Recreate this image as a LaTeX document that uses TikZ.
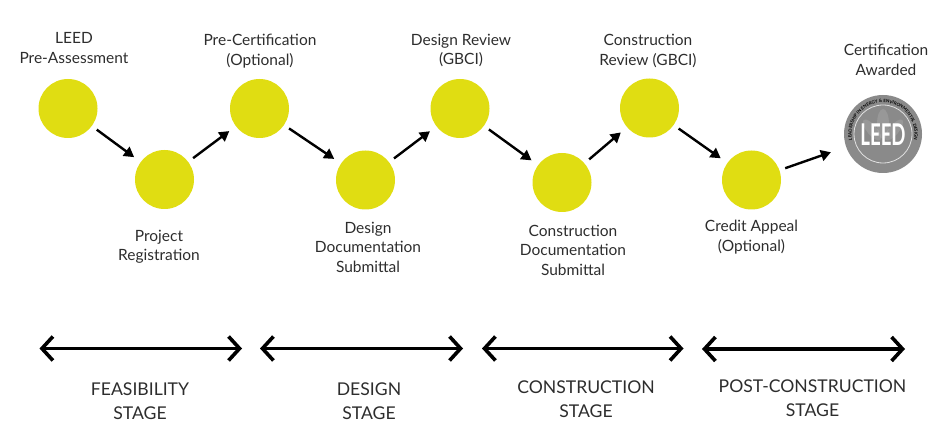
\documentclass[tikz,border=0pt]{standalone}
\usepackage{fontspec}
\setmainfont{Lato}
\usetikzlibrary{arrows.meta,decorations.text}
\definecolor{leedyellow}{RGB}{224,221,18}
\definecolor{labelgray}{RGB}{45,45,45}
\definecolor{badgegray}{RGB}{138,138,138}
\definecolor{badgelight}{RGB}{225,225,225}
\newcommand\badgefont{\fontsize{4.4}{5}\selectfont\bfseries}

\begin{document}
\begin{tikzpicture}[x=1pt,y=-1pt,
	dot/.style={circle, fill=leedyellow, minimum size=59pt, inner sep=0pt},
	lbl/.style={align=center, text=labelgray, font=\fontsize{15.5}{19.5}\selectfont},
	stagelbl/.style={align=center, text=labelgray, font=\fontsize{17.6}{24}\selectfont},
	flow/.style={-{Triangle[length=10pt,width=11pt]}, line width=2.4pt, shorten <=6pt, shorten >=8pt},
	span/.style={{Straight Barb[length=11pt,width=24pt]}-{Straight Barb[length=11pt,width=24pt]}, line width=3.6pt}]

\useasboundingbox (0,0) rectangle (936,430);

\foreach [count=\i] \x\y in {
	68/108.5
	,164.5/179.5
	,259.5/108.5
	,365.5/180
	,460/108.5
	,562/182.5
	,649.5/108
	,751.5/180
}{
	\node[dot](\i) at(\x,\y) {};
}

% badge
\node[circle, fill=badgegray, minimum size=78pt, inner sep=0pt](leed) at(883,134) {};
\fill[white, opacity=0.12] (leed.center) ++(0pt,10pt) circle[x radius=6pt, y radius=15pt];
\fill[white, opacity=0.12] (leed.center) ++(-11pt,4pt) circle[x radius=5pt, y radius=13pt, rotate=40];
\fill[white, opacity=0.12] (leed.center) ++(11pt,4pt) circle[x radius=5pt, y radius=13pt, rotate=-40];
\draw[badgelight, line width=0.8pt] (leed.center) circle[radius=29pt];
\node[text=white, font=\bfseries\fontsize{30}{30}\selectfont, xscale=0.62](leedtext) at(883,135) {LEED};
\begin{scope}[color=badgelight]
\path[decorate, decoration={text along path, text align=center,
	text={|\badgefont|LEADERSHIP IN ENERGY {\&} ENVIRONMENTAL DESIGN}}]
	(leed.center) ++(215:31.5pt) arc[start angle=215, end angle=-35, radius=31.5pt];
\end{scope}

% labels
\node[lbl](pre) at(74,48) {LEED\\Pre-Assessment};
\node[lbl](reg) at(159,247) {Project\\Registration};
\node[lbl](precert) at(260,51) {Pre-Certification\\(Optional)};
\node[lbl](ddoc) at(368,247) {Design\\Documentation\\Submittal};
\node[lbl](drev) at(461,50.5) {Design Review\\(GBCI)};
\node[lbl](cdoc) at(573,250) {Construction\\Documentation\\Submittal};
\node[lbl](crev) at(648,51) {Construction\\Review (GBCI)};
\node[lbl](appeal) at(751.5,237) {Credit Appeal\\(Optional)};
\node[lbl](award) at(886,60) {Certification\\Awarded};

\foreach \u\v in {
1/2%
,2/3%
,3/4%
,4/5%
,5/6%
,6/7%
,7/8%
}{
	\draw[flow] (\u) -- (\v);
}
\draw[flow, shorten >=16pt] (8) -- (leed);

% stages
\foreach [count=\i] \a\b\y in {
	39.5/242/348.5
	,260/463/348.5
	,482/683.5/348.5
	,702/905/349
}{
	\coordinate(sl\i) at(\a,\y);
	\coordinate(sr\i) at(\b,\y);
	\draw[span] (sl\i) -- (sr\i);
}

\node[stagelbl](feas) at(140,401) {FEASIBILITY\\STAGE};
\node[stagelbl](design) at(369,401) {DESIGN\\STAGE};
\node[stagelbl](constr) at(586,399) {CONSTRUCTION\\STAGE};
\node[stagelbl](post) at(812.5,398) {POST-CONSTRUCTION\\STAGE};

\end{tikzpicture}
\end{document}
